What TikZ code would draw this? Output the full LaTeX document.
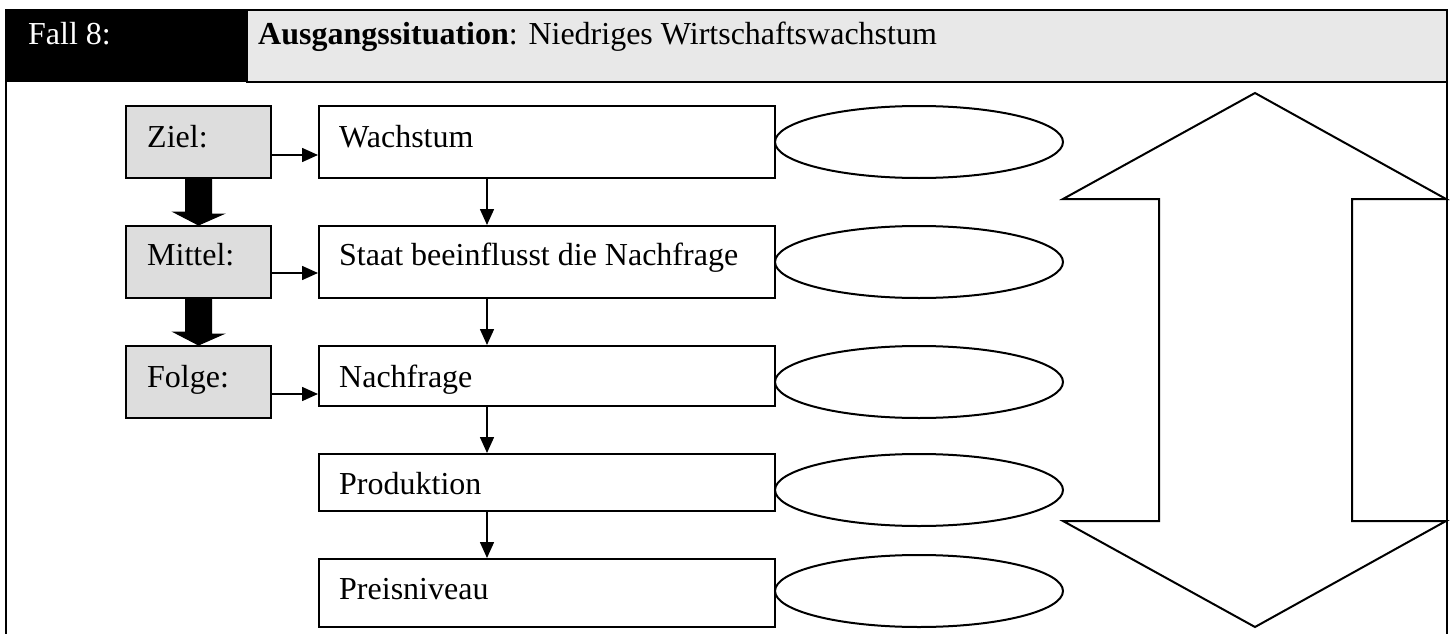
\documentclass[tikz,border=0pt]{standalone}
\usepackage{fontspec}
\setmainfont{Liberation Serif}
\usetikzlibrary{arrows.meta,calc,shapes.geometric}
\definecolor{headgray}{HTML}{E8E8E8}
\definecolor{labelgray}{HTML}{DDDDDD}
\begin{document}
\begin{tikzpicture}[x=1pt,y=-1pt,
  every node/.style={font=\fontsize{32}{38}\selectfont},
  lbox/.style={draw,line width=2pt,fill=labelgray,inner sep=0pt,minimum width=145pt,minimum height=72pt},
  rbox/.style={draw,line width=2pt,fill=white,inner sep=0pt,minimum width=456pt},
  oval/.style={draw,line width=2pt,ellipse,inner sep=0pt,minimum width=288pt,minimum height=72pt},
  txt/.style={anchor=base west,inner sep=0pt},
  arr/.style={line width=1.6pt,-{Triangle[length=16pt,width=14pt]}},
  bigarr/.style={fill=black,draw=black,line width=1pt}]
\useasboundingbox (0,0) rectangle (1454,634);

% header band
\fill[black] (5,9) rectangle (247,82);
\draw[line width=2pt,fill=headgray] (247,10) rectangle (1447,82);
\node[txt,text=white] (fall) at (28,45) {Fall 8:};
\node[txt] (head) at (258,45) {\textbf{Ausgangssituation}: Niedriges Wirtschaftswachstum};

% frame
\draw[line width=2pt] (6,82) -- (6,634);
\draw[line width=2pt] (1447,82) -- (1447,634);

% left column
\node[lbox] (ziel) at (198.5,142) {};
\node[lbox] (mittel) at (198.5,262) {};
\node[lbox] (folge) at (198.5,382) {};
\node[txt] at (147,147) {Ziel:};
\node[txt] at (147,265) {Mittel:};
\node[txt] at (147,387) {Folge:};

% chain of boxes
\node[rbox,minimum height=72pt] (b1) at (547,142) {};
\node[rbox,minimum height=72pt] (b2) at (547,262) {};
\node[rbox,minimum height=60pt] (b3) at (547,376) {};
\node[rbox,minimum height=57pt] (b4) at (547,482.5) {};
\node[rbox,minimum height=68pt] (b5) at (547,593) {};
\node[txt] at (339,147) {Wachstum};
\node[txt] at (339,265) {Staat beeinflusst die Nachfrage};
\node[txt] at (339,387) {Nachfrage};
\node[txt] at (339,494) {Produktion};
\node[txt] at (339,599) {Preisniveau};

% empty ovals
\node[oval] (e1) at (919,142) {};
\node[oval] (e2) at (919,262) {};
\node[oval] (e3) at (919,382) {};
\node[oval] (e4) at (919,490) {};
\node[oval] (e5) at (919,591) {};

% horizontal arrows
\draw[arr] ([yshift=-13pt]ziel.east) -- ([yshift=-13pt]ziel.east -| b1.west);
\draw[arr] ([yshift=-11pt]mittel.east) -- ([yshift=-11pt]mittel.east -| b2.west);
\draw[arr] ([yshift=-12pt]folge.east) -- ([yshift=-12pt]folge.east -| b3.west);

% vertical arrows
\draw[arr] ([xshift=-60pt]b1.south) -- ([xshift=-60pt]b2.north);
\draw[arr] ([xshift=-60pt]b2.south) -- ([xshift=-60pt]b3.north);
\draw[arr] ([xshift=-60pt]b3.south) -- ([xshift=-60pt]b4.north);
\draw[arr] ([xshift=-60pt]b4.south) -- ([xshift=-60pt]b5.north);

% thick arrows between the left boxes
\draw[bigarr] ($(ziel.south)+(-13,0)$) -- ++(26,0) -- ++(0,35) -- ++(12,0)
  -- (mittel.north) -- ++(-25,-13) -- ++(12,0) -- cycle;
\draw[bigarr] ($(mittel.south)+(-13,0)$) -- ++(26,0) -- ++(0,35) -- ++(12,0)
  -- (folge.north) -- ++(-25,-13) -- ++(12,0) -- cycle;

% double arrow
\draw[line width=2pt,line join=miter,fill=white]
  (1255,93) -- (1446,199) -- (1352,199) -- (1352,521) -- (1446,521)
  -- (1255,627) -- (1063,521) -- (1159,521) -- (1159,199) -- (1063,199) -- cycle;
\end{tikzpicture}
\end{document}
